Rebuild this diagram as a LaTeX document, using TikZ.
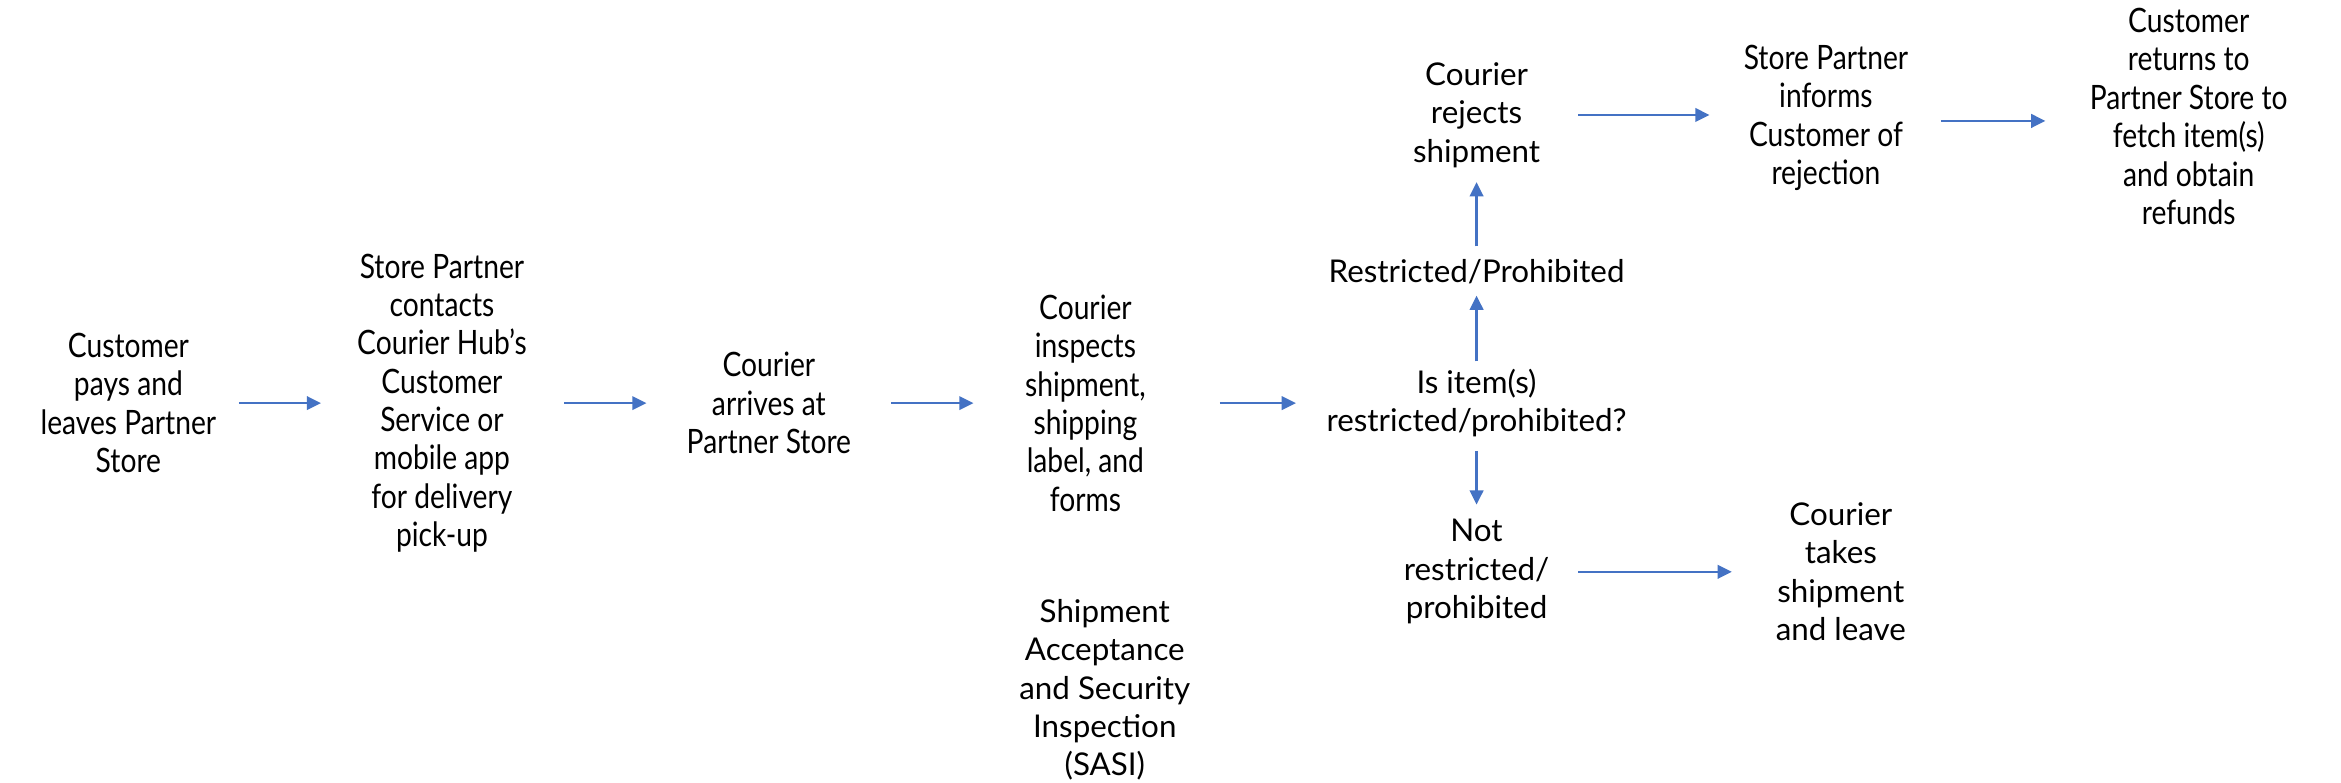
\documentclass[tikz,border=0pt]{standalone}
\usepackage{fontspec}
\setmainfont{Lato}
\newfontfamily\condfont[FakeStretch=0.84]{Lato}
\usetikzlibrary{arrows.meta}
\definecolor{arrowblue}{HTML}{4472C4}
\begin{document}
\begin{tikzpicture}[x=1pt,y=-1pt,
  cond/.style={align=center, font=\condfont\fontsize{22.5}{25.7}\selectfont, inner sep=0pt, text=black},
  reg/.style={align=center, font=\fontsize{21}{25.7}\selectfont, inner sep=0pt, text=black},
  arr/.style={draw=arrowblue, line width=1.7pt, -{Triangle[length=9.5pt,width=9pt]}}]
\fill[white] (0,0) rectangle (1568,524);
\useasboundingbox (0,0) rectangle (1568,524);
\node[cond] (n1) at (86,270) {Customer\\pays and\\leaves Partner\\Store};
\node[cond] (n2) at (296,270) {Store Partner\\contacts\\Courier Hub’s\\Customer\\Service or\\mobile app\\for delivery\\pick-up};
\node[cond] (n3) at (515,270) {Courier\\arrives at\\Partner Store};
\node[cond] (n4) at (727,270) {Courier\\inspects\\shipment,\\shipping\\label, and\\forms};
\node[reg] (n5) at (989,270) {Is item(s)\\restricted/prohibited?};
\node[reg] (n6) at (989,182) {Restricted/Prohibited};
\node[reg] (n7) at (989,77) {Courier\\rejects\\shipment};
\node[cond] (n8) at (1223,79) {Store Partner\\informs\\Customer of\\rejection};
\node[cond] (n9) at (1466,78) {Customer\\returns to\\Partner Store to\\fetch item(s)\\and obtain\\refunds};
\node[reg] (n10) at (989,383) {Not\\restricted/\\prohibited};
\node[reg] (n11) at (1233,383) {Courier\\takes\\shipment\\and leave};
\node[reg] (n12) at (740,462) {Shipment\\Acceptance\\and Security\\Inspection\\(SASI)};
\draw[arr, shorten <=74pt, shorten >=81pt] (n1.center) -- (n2.center);
\draw[arr, shorten <=82pt, shorten >=82pt] (n2.center) -- (n3.center);
\draw[arr, shorten <=82pt, shorten >=75pt] (n3.center) -- (n4.center);
\draw[arr, shorten <=90pt, shorten >=121pt] (n4.center) -- (n5.center);
\draw[arr, shorten <=28pt, shorten >=16pt] (n5.center) -- (n6.center);
\draw[arr, shorten <=17pt, shorten >=45pt] (n6.center) -- (n7.center);
\draw[arr, shorten <=32pt, shorten >=45pt] (n5.center) -- (n10.center);
\draw[arr, shorten <=68pt, shorten >=78pt] (n7.center) -- (n7.center -| n8.center);
\draw[arr, shorten <=77pt, shorten >=96pt] ([yshift=-2pt]n8.center) -- ([yshift=-2pt]n8.center -| n9.center);
\draw[arr, shorten <=68pt, shorten >=73pt] (n10.center) -- (n11.center);
\end{tikzpicture}
\end{document}
